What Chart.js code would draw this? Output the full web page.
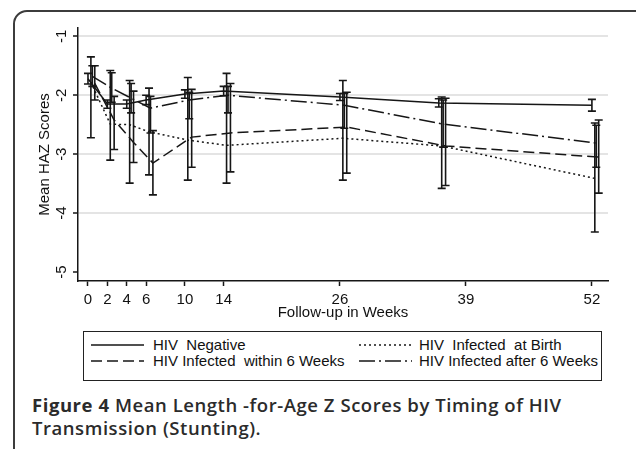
<!DOCTYPE html>
<html>
<head>
<meta charset="utf-8">
<script src="https://cdn.jsdelivr.net/npm/chart.js@4"></script>
<style>
  html, body { margin: 0; padding: 0; background: #fff; }
  body { width: 636px; height: 449px; overflow: hidden; position: relative; }
  #frame {
    position: absolute; left: 13px; top: 10px; width: 640px; height: 500px;
    border: 2px solid #3c3c3c; border-radius: 14px; box-sizing: border-box;
  }
  #wrap { position: absolute; left: 0; top: 0; width: 636px; height: 322px; }
  #legend {
    position: absolute; left: 83px; top: 331px; width: 519px; height: 50px;
    border: 1.5px solid #222; box-sizing: border-box; overflow: hidden;
    font: 15px 'Liberation Sans', Arial, sans-serif; color: #111;
  }
  .item { position: absolute; height: 16px; white-space: pre; line-height: 16px; }
  .item svg { position: absolute; left: 0; top: 6px; }
  .item span { position: absolute; top: 0; }
  #caption {
    position: absolute; left: 32px; top: 393px; width: 604px;
    font: 600 18.5px 'Open Sans', sans-serif; line-height: 23px; letter-spacing: 0.55px; color: #2b2b2b;
  }
  #caption b { font-weight: 700; }
</style>
</head>
<body>
<div id="frame"></div>
<div id="wrap"><canvas id="haz-chart"></canvas></div>
<div id="legend"></div>
<div id="caption"><b>Figure 4</b> Mean Length -for-Age Z Scores by Timing of HIV<br>Transmission (Stunting).</div>
<script>
// follow-up visits (weeks) as plotted, and the axis tick labels
const visitWeeks = [0, 2, 4, 6, 10, 14, 26, 36.2, 52];
const tickWeeks = [0, 2, 4, 6, 10, 14, 26, 39, 52];
const yTicks = [-5, -4, -3, -2, -1];
const yTickLabels = ['-5', '-4', '-3', '-2', '-1'];

const seriesNames = ['HIV  Negative', 'HIV  Infected  at Birth', 'HIV Infected  within 6 Weeks', 'HIV Infected after 6 Weeks'];

// mean HAZ and 95% CI per group
const negMean = [-1.72, -2.15, -2.15, -2.08, -1.98, -1.93, -2.03, -2.13, -2.17];
const negLow = [-1.81, -2.22, -2.22, -2.16, -2.05, -2.01, -2.09, -2.2, -2.27];
const negHigh = [-1.63, -2.08, -2.08, -2.0, -1.91, -1.85, -1.97, -2.06, -2.07];

const birthMean = [-1.78, -2.49, -2.5, -2.62, -2.76, -2.85, -2.73, -2.86, -3.41];
const birthLow = [-2.72, -3.1, -3.49, -3.35, -3.44, -3.49, -3.44, -3.58, -4.32];
const birthHigh = [-1.35, -1.58, -1.75, -1.88, -1.7, -1.63, -1.75, -2.03, -2.47];

const withinMean = [-1.8, -2.42, -2.8, -3.15, -2.71, -2.64, -2.54, -2.86, -3.05];
const withinLow = [-2.08, -2.92, -3.14, -3.69, -3.22, -3.3, -3.32, -3.53, -3.66];
const withinHigh = [-1.5, -2.02, -1.93, -2.6, -1.9, -1.8, -1.95, -2.05, -2.42];

const afterMean = [-1.68, -1.88, -2.05, -2.22, -2.08, -2.0, -2.17, -2.49, -2.81];
const afterLow = [-1.85, -2.12, -2.3, -2.64, -2.4, -2.3, -2.56, -2.88, -3.22];
const afterHigh = [-1.5, -1.62, -1.8, -2.02, -1.95, -1.85, -1.97, -2.08, -2.51];

const groups = [
  {mean: negMean, low: negLow, high: negHigh, shift: 0, dash: []},
  {mean: birthMean, low: birthLow, high: birthHigh, shift: 0.3, dash: [2, 3]},
  {mean: withinMean, low: withinLow, high: withinHigh, shift: 0.7, dash: [11, 5]},
  {mean: afterMean, low: afterLow, high: afterHigh, shift: 0.45, dash: [16, 4, 2, 4]},
];

const ink = '#161616';
const font = {family: "'Liberation Sans', Arial, sans-serif", size: 15};

// draws the CI caps for every point
const errorBars = {
  id: 'errorBars',
  afterDatasetsDraw(chart) {
    const {ctx, scales: {x, y}} = chart;
    ctx.save();
    ctx.strokeStyle = ink;
    ctx.lineWidth = 1.6;
    chart.data.datasets.forEach((ds) => {
      ds.data.forEach((p) => {
        const px = x.getPixelForValue(p.x);
        const top = y.getPixelForValue(p.hi);
        const bot = y.getPixelForValue(p.lo);
        ctx.beginPath();
        ctx.moveTo(px, top);
        ctx.lineTo(px, bot);
        ctx.moveTo(px - 4, top);
        ctx.lineTo(px + 4, top);
        ctx.moveTo(px - 4, bot);
        ctx.lineTo(px + 4, bot);
        ctx.stroke();
      });
    });
    ctx.restore();
  }
};

const ctx = document.querySelector('#haz-chart').getContext('2d');

const chart = new Chart(ctx, {
  type: 'line',
  data: {
    datasets: groups.map((g, i) => ({
      label: seriesNames[i],
      data: visitWeeks.map((w, j) => ({x: w + g.shift, y: g.mean[j], lo: g.low[j], hi: g.high[j]})),
      borderDash: g.dash,
      borderColor: ink,
      borderWidth: 1.5,
      pointRadius: 0,
      tension: 0,
      fill: false,
    })),
  },
  options: {
    responsive: true,
    maintainAspectRatio: false,
    animation: false,
    layout: {padding: {left: 36, top: 28, right: 28, bottom: 0}},
    scales: {
      x: {
        type: 'linear',
        min: -1.03,
        max: 53.66,
        afterBuildTicks: (scale) => { scale.ticks = tickWeeks.map((v) => ({value: v})); },
        afterFit: (scale) => { scale.height = 41; },
        grid: {drawOnChartArea: false, tickLength: 5, tickColor: ink, tickWidth: 1.5},
        border: {color: ink, width: 1.5},
        ticks: {font, color: '#111', padding: 5, maxRotation: 0, autoSkip: false},
        title: {display: true, text: 'Follow-up in Weeks', font, color: '#111', padding: 0},
      },
      y: {
        min: -5.15,
        max: -0.86,
        afterBuildTicks: (scale) => { scale.ticks = yTicks.map((v) => ({value: v})); },
        afterFit: (scale) => { scale.width = 42; },
        grid: {
          color: (c) => (c.tick && c.tick.value === -5 ? 'rgba(0,0,0,0)' : '#e4e4e4'),
          lineWidth: 2,
          tickLength: 5,
          tickColor: ink,
          tickWidth: 1.5,
        },
        border: {color: ink, width: 1.5},
        ticks: {
          font, color: '#111', padding: 4, minRotation: 90, maxRotation: 90, crossAlign: 'center',
          callback: (v) => yTickLabels[yTicks.indexOf(v)],
        },
        title: {display: true, text: 'Mean HAZ Scores', font, color: '#111', padding: 0},
      },
    },
    plugins: {
      legend: {display: false},
      tooltip: {enabled: false},
    },
  },
  plugins: [errorBars],
});

// legend box in two columns, built from the datasets
const legendBox = document.querySelector('#legend');
const colLeft = [7, 275];
chart.data.datasets.forEach((ds, i) => {
  const item = document.createElement('div');
  item.className = 'item';
  item.style.left = colLeft[i % 2] + 'px';
  item.style.top = (i < 2 ? 5 : 21) + 'px';
  const dash = ds.borderDash.length ? ds.borderDash.join(' ') : 'none';
  item.innerHTML = '<svg width="53" height="4"><line x1="0" y1="2" x2="53" y2="2" stroke="' + ink +
    '" stroke-width="1.5" stroke-dasharray="' + dash + '"/></svg>';
  const text = document.createElement('span');
  text.style.left = (i % 2 ? 60 : 62) + 'px';
  text.textContent = ds.label;
  item.appendChild(text);
  legendBox.appendChild(item);
});
</script>
</body>
</html>
